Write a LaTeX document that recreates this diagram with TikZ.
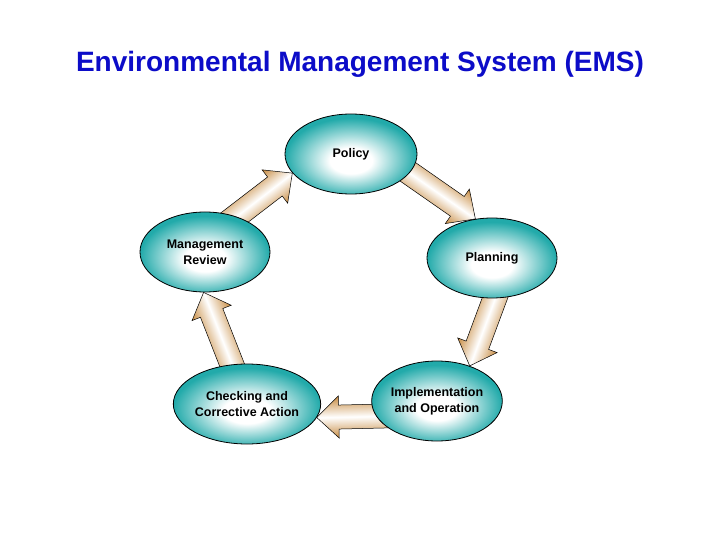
\documentclass[tikz,border=0pt]{standalone}
\usepackage{fontspec}
\newfontfamily\emsfont{Liberation Sans}
\usetikzlibrary{shapes.geometric,calc,backgrounds}

\definecolor{emsteal}{RGB}{34,170,170}
\definecolor{emstan}{RGB}{200,140,66}
\definecolor{emsblue}{RGB}{12,12,200}

% white spot a little below the centre of each stage
\pgfdeclareradialshading{emsball}{\pgfpoint{0bp}{-5bp}}{%
  color(0bp)=(white); color(8bp)=(white); color(25bp)=(emsteal); color(50bp)=(emsteal)}

\tikzset{
  stage/.style={ellipse,draw=black,thick,shade,shading=emsball,
    minimum width=130pt,minimum height=80pt,inner sep=0pt,align=center,
    font=\emsfont\bfseries\fontsize{12.5}{16}\selectfont},
  flow/.style={draw=black,line width=.5pt,
    top color=emstan,bottom color=emstan,middle color=white},
  heading/.style={text=emsblue,font=\emsfont\bfseries\fontsize{28}{32}\selectfont}
}

% block arrow from #1 to #2 (tail hidden under the stage)
\newcommand\flowarrow[2]{%
  \coordinate (tl) at ($(#1)!-12pt!(#2)$);
  \path let \p1=($(#2)-(tl)$) in \pgfextra{%
    \pgfmathsetmacro\flowangle{atan2(\y1,\x1)}\xdef\flowangle{\flowangle}%
    \pgfmathsetmacro\flowlen{veclen(\x1,\y1)}\xdef\flowlen{\flowlen}};
  \begin{scope}[transform canvas={shift={(tl)},rotate=\flowangle}]
    \path[flow] (0,12) -- (\flowlen-22,12) -- (\flowlen-22,21) -- (\flowlen,0)
      -- (\flowlen-22,-21) -- (\flowlen-22,-12) -- (0,-12) -- cycle;
  \end{scope}}

\begin{document}
\begin{tikzpicture}[x=1pt,y=-1pt]
  \useasboundingbox (0,0) rectangle (720,540);

  \node[heading] (ttl) at (360,64) {Environmental Management System (EMS)};

  % the five stages of the cycle
  \node[stage,minimum width=132pt] (pol) at (351,154) {Policy};
  \node[stage] (pla) at (492,258) {Planning};
  \node[stage,minimum width=127pt] (imp) at (437,401) {Implementation\\and Operation};
  \node[stage,minimum width=133pt] (chk) at (247,404) {Checking and\\Corrective Action};
  \node[stage] (mr) at (205,252) {Management\\Review};

  % arrows behind the stages
  \begin{scope}[on background layer]
    \fill[white] (0,0) rectangle (720,540);
    \flowarrow{pol.-18}{pla.113}
    \flowarrow{pla.-86}{imp.47}
    \flowarrow{imp.194}{chk.-11}
    \flowarrow{chk.111}{mr.-92}
    \flowarrow{mr.49}{pol.198}
  \end{scope}
\end{tikzpicture}
\end{document}
